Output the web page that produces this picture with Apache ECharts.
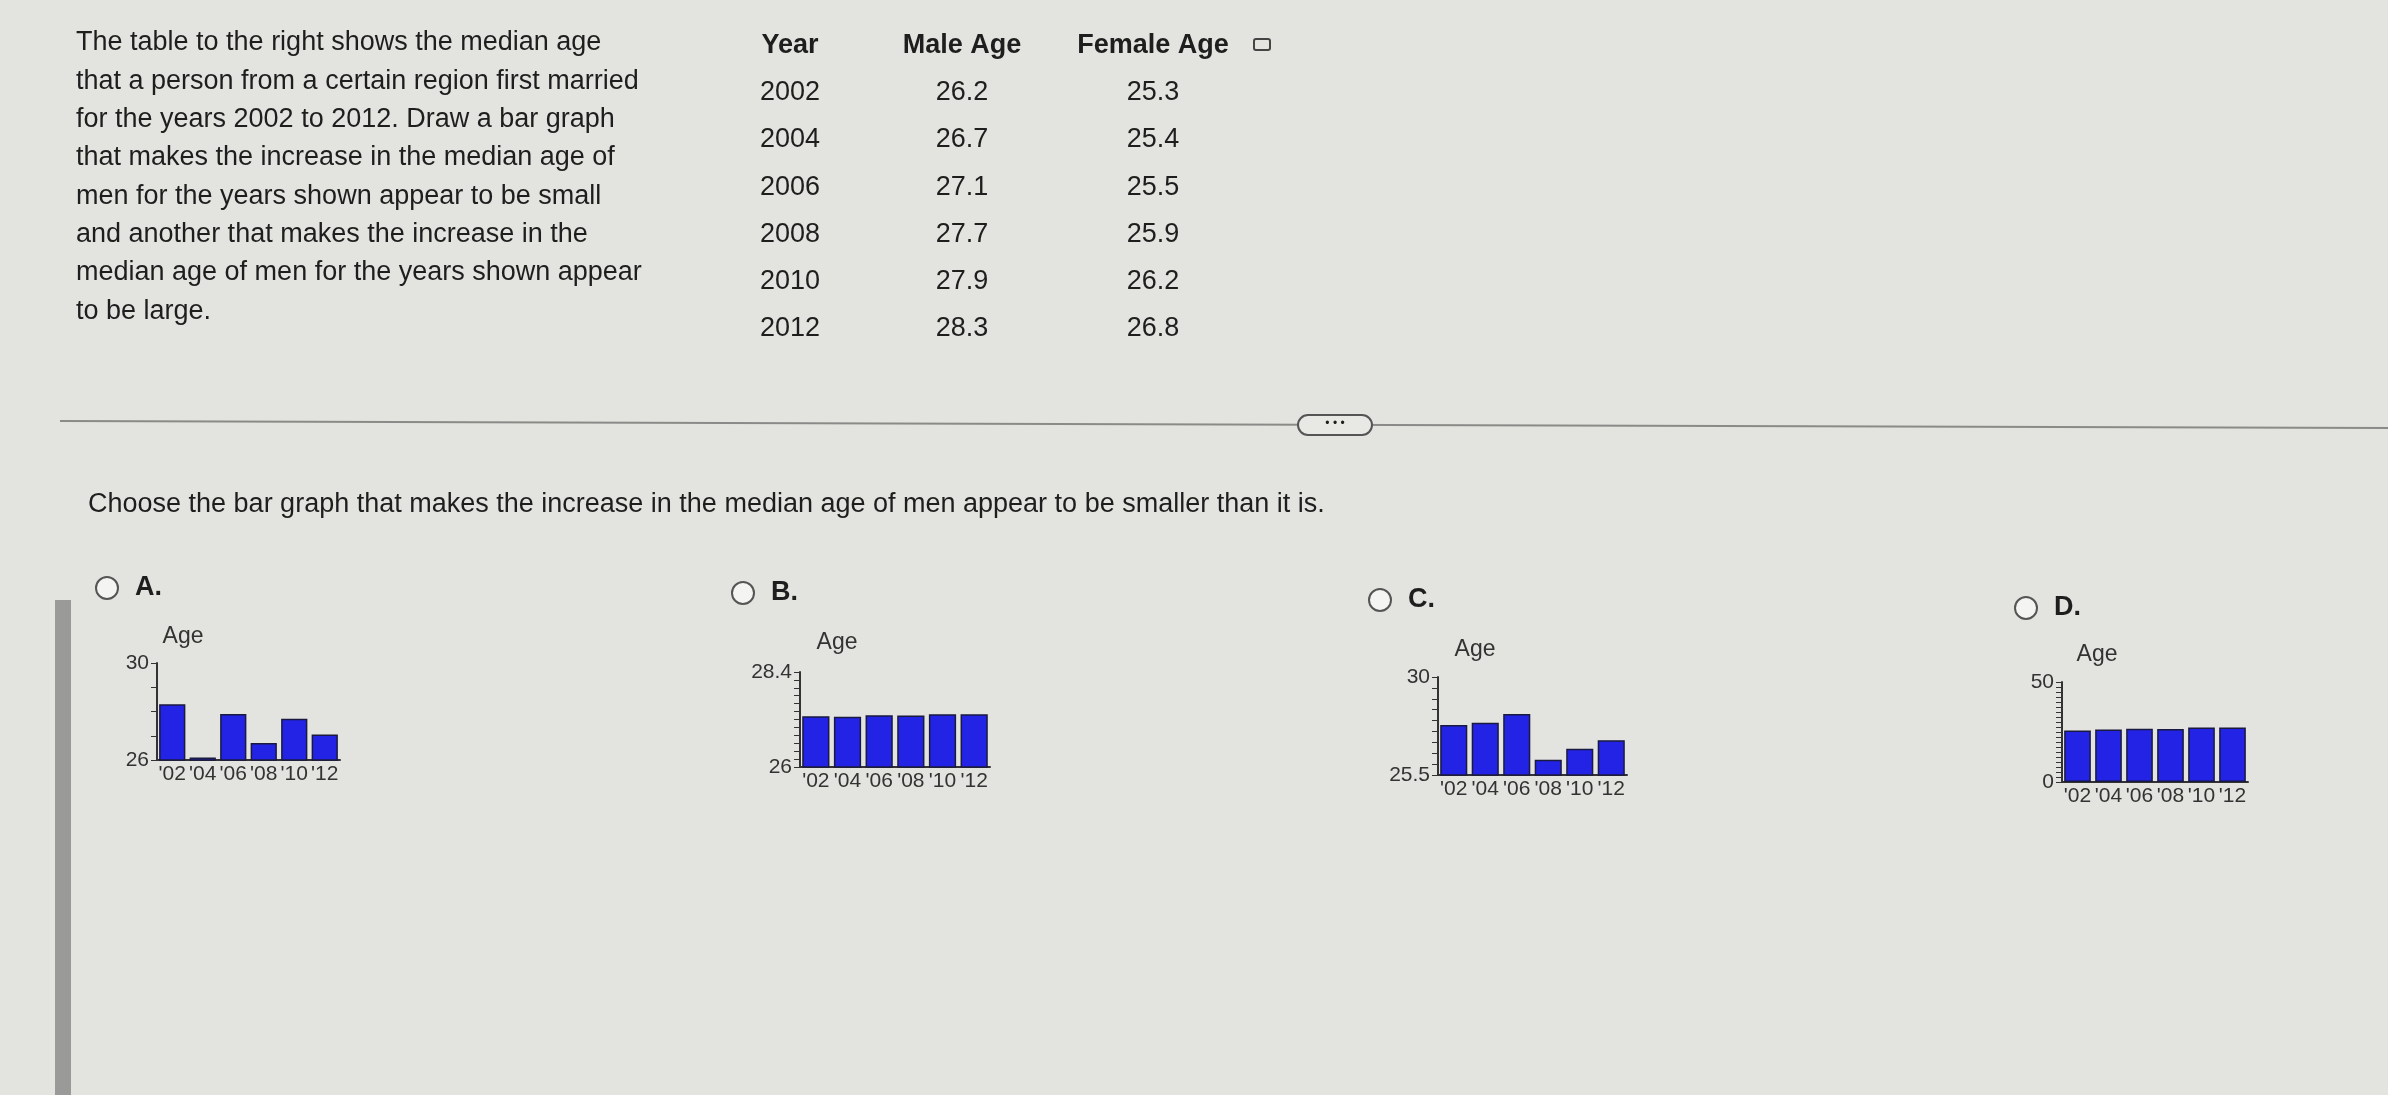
<!DOCTYPE html>
<html><head><meta charset="utf-8">
<script src="https://cdn.jsdelivr.net/npm/echarts@6/dist/echarts.min.js"></script>
<style>html,body{margin:0;padding:0;background:#e3e3df}#c{width:2388px;height:1095px}</style>
</head><body><div id="c"></div>
<script>
const years = ['2002','2004','2006','2008','2010','2012'];
const maleAge = ['26.2','26.7','27.1','27.7','27.9','28.3'];
const femaleAge = ['25.3','25.4','25.5','25.9','26.2','26.8'];
const barLabels = ["'02","'04","'06","'08","'10","'12"];
const valuesA = [28.3, 26.1, 27.9, 26.7, 27.7, 27.05];
const valuesB = [27.28, 27.27, 27.31, 27.3, 27.33, 27.33];
const valuesC = [27.8, 27.9, 28.3, 26.2, 26.7, 27.1];
const valuesD = [25.8, 26.2, 26.6, 26.5, 27.2, 27.3];
const axesSpec = [
  {min:26, max:30, interval:1, data:valuesA, grid:{left:157,top:663,width:183,height:97}, age:[183,637], radio:[107,588], label:'A.'},
  {min:26, max:28.4, interval:0.2, data:valuesB, grid:{left:800,top:672,width:190,height:95}, age:[837,643], radio:[743,593], label:'B.'},
  {min:25.5, max:30, interval:0.5, data:valuesC, grid:{left:1438,top:677,width:189,height:98}, age:[1475,650], radio:[1380,600], label:'C.'},
  {min:0, max:50, interval:2.5, data:valuesD, grid:{left:2062,top:682,width:186,height:100}, age:[2097,655], radio:[2026,608], label:'D.'}
];
const para = ['The table to the right shows the median age','that a person from a certain region first married','for the years 2002 to 2012. Draw a bar graph','that makes the increase in the median age of','men for the years shown appear to be small','and another that makes the increase in the','median age of men for the years shown appear','to be large.'];
const F = "'Liberation Sans', Arial, sans-serif";
const FN = 'Liberation Sans';
const txt = (x,y,t,o={}) => ({type:'text',x,y,style:{text:t,fontFamily:FN,fontSize:o.size||27,fontWeight:o.bold?'bold':'normal',fill:o.fill||'#1e1e1e',align:o.align||'left',verticalAlign:'middle'}});
const g = [];
g.push({type:'rect',shape:{x:55,y:600,width:16,height:495},style:{fill:'#9a9a98'}});
para.forEach((l,i)=>g.push(txt(76,43+i*38.3,l)));
const rowsY=[93,140,188,235,282,329];
g.push(txt(790,46,'Year',{bold:true,align:'center'}));
g.push(txt(962,46,'Male Age',{bold:true,align:'center'}));
g.push(txt(1153,46,'Female Age',{bold:true,align:'center'}));
g.push({type:'rect',shape:{x:1254,y:39,width:16,height:11,r:2},style:{fill:'none',stroke:'#444',lineWidth:2}});
years.forEach((y,i)=>{g.push(txt(790,rowsY[i],y,{align:'center'}));g.push(txt(962,rowsY[i],maleAge[i],{align:'center'}));g.push(txt(1153,rowsY[i],femaleAge[i],{align:'center'}));});
g.push({type:'line',shape:{x1:60,y1:421,x2:2388,y2:428},style:{stroke:'#8a8a88',lineWidth:2}});
g.push({type:'rect',shape:{x:1298,y:415,width:74,height:20,r:10},style:{fill:'#e8e8e4',stroke:'#555',lineWidth:2}});
g.push(txt(1335,424,'• • •',{size:12,align:'center'}));
g.push(txt(88,505,'Choose the bar graph that makes the increase in the median age of men appear to be smaller than it is.'));
axesSpec.forEach(s=>{
  g.push({type:'circle',shape:{cx:s.radio[0],cy:s.radio[1],r:11},style:{fill:'#f4f4f2',stroke:'#555',lineWidth:2}});
  g.push(txt(s.radio[0]+28,s.radio[1],s.label,{bold:true}));
  g.push(txt(s.age[0],s.age[1],'Age',{size:23,align:'center',fill:'#333'}));
});
const opt = {backgroundColor:'#e3e3df',animation:false,graphic:g,grid:[],xAxis:[],yAxis:[],series:[]};
axesSpec.forEach((s,i)=>{
  opt.grid.push(s.grid);
  opt.xAxis.push({type:'category',gridIndex:i,data:barLabels,axisTick:{show:false},axisLine:{lineStyle:{color:'#333',width:2}},axisLabel:{color:'#333',fontSize:21,fontFamily:FN,margin:4,interval:0}});
  opt.yAxis.push({type:'value',gridIndex:i,min:s.min,max:s.max,interval:s.interval,splitLine:{show:false},
    axisLine:{show:true,lineStyle:{color:'#333',width:2}},axisTick:{show:true,length:6,lineStyle:{color:'#333'}},
    axisLabel:{color:'#333',fontSize:21,fontFamily:FN,margin:8,formatter:v=>(Math.abs(v-s.min)<1e-6||Math.abs(v-s.max)<1e-6)?String(v):''}});
  opt.series.push({type:'bar',xAxisIndex:i,yAxisIndex:i,data:s.data,barCategoryGap:'14%',
    itemStyle:{color:'#2323e6',borderColor:'#1a1a40',borderWidth:1.5}});
});
echarts.init(document.getElementById('c')).setOption(opt);
</script></body></html>
